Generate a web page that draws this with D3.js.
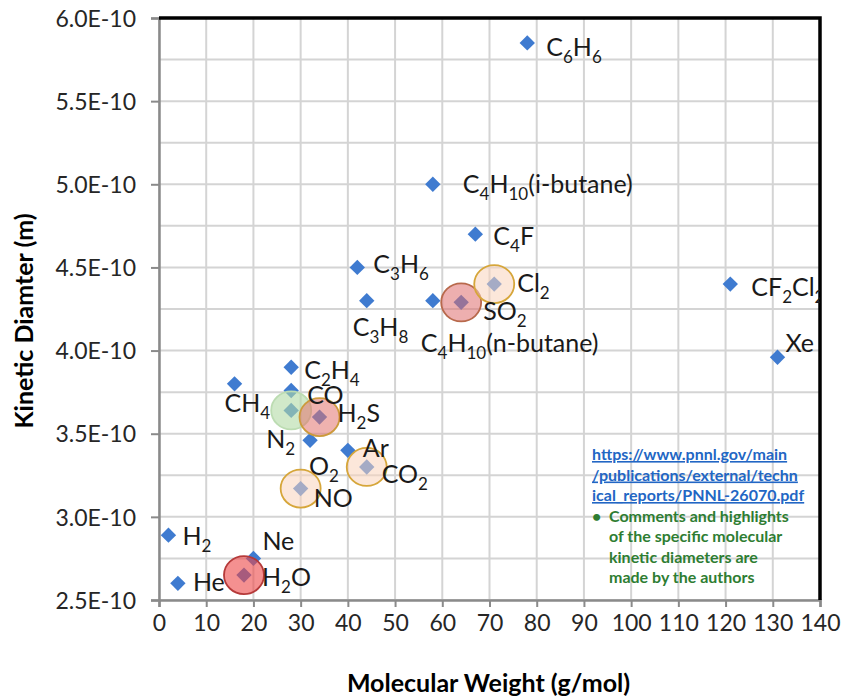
<!DOCTYPE html>
<html>
<head>
<meta charset="utf-8">
<script src="https://cdn.jsdelivr.net/npm/d3@7"></script>
<style>
  body { margin: 0; background: #fff; }
  text { font-family: Lato, "Open Sans", sans-serif; }
</style>
</head>
<body>
<div id="chart"></div>
<script>
// molecules (subscripts written as _n)
const gases = ["C_6H_6", "C_4H_{10}(i-butane)", "C_4F", "C_3H_6", "C_3H_8", "C_4H_{10}(n-butane)",
    "SO_2", "Cl_2", "CF_2Cl_2", "Xe", "CH_4", "C_2H_4", "CO", "N_2", "H_2S", "O_2", "Ar",
    "CO_2", "NO", "H_2", "Ne", "He", "H_2O"];
// molecular weight, g/mol
const molWeight = [78, 58, 67, 42, 44, 58, 64, 71, 121, 131, 16, 28, 28, 28, 34, 32, 40, 44, 30, 2, 20, 4, 18];
// kinetic diameter, m
const kineticDiameter = [5.85e-10, 5.0e-10, 4.7e-10, 4.5e-10, 4.3e-10, 4.3e-10, 4.29e-10, 4.4e-10,
    4.4e-10, 3.96e-10, 3.8e-10, 3.9e-10, 3.76e-10, 3.64e-10, 3.6e-10, 3.46e-10, 3.4e-10,
    3.3e-10, 3.17e-10, 2.89e-10, 2.75e-10, 2.6e-10, 2.65e-10];
const xTicks = [0, 10, 20, 30, 40, 50, 60, 70, 80, 90, 100, 110, 120, 130, 140];
const yTicks = [2.5e-10, 3.0e-10, 3.5e-10, 4.0e-10, 4.5e-10, 5.0e-10, 5.5e-10, 6.0e-10];
// molecules the authors circled
const highlighted = ["H_2O", "SO_2", "H_2S", "Cl_2", "CO_2", "NO", "N_2"];
const noteLink = ["https://www.pnnl.gov/main", "/publications/external/techn", "ical_reports/PNNL-26070.pdf"];
const noteText = ["Comments and highlights", "of the specific molecular", "kinetic diameters are", "made by the authors"];

// label placement next to each marker (px)
const labelOffset = {
    "C_6H_6": [19, 4], "C_4H_{10}(i-butane)": [30, 0], "C_4F": [18, 2], "C_3H_6": [16, -3],
    "C_3H_8": [-14, 26], "C_4H_{10}(n-butane)": [-12, 42], "SO_2": [22, 9], "Cl_2": [23, -1],
    "CF_2Cl_2": [21, 3], "Xe": [8, -14], "CH_4": [-10, 19], "C_2H_4": [13, 3], "CO": [16, 5],
    "N_2": [-25, 29], "H_2S": [18, -4], "O_2": [-1, 26], "Ar": [15, -2], "CO_2": [15, 7],
    "NO": [13, 9], "H_2": [14, 1], "Ne": [9, -17], "He": [15, -1], "H_2O": [18, 2]
};
const circleStyle = {
    "H_2O": ["rgba(236,70,70,0.6)", "#b53a3a"],
    "SO_2": ["rgba(222,110,110,0.55)", "#b8694c"],
    "H_2S": ["rgba(226,115,110,0.55)", "#cc9a3c"],
    "Cl_2": ["rgba(250,212,188,0.55)", "#d6a63a"],
    "CO_2": ["rgba(250,212,188,0.55)", "#d6a63a"],
    "NO": ["rgba(250,212,188,0.55)", "#d6a63a"],
    "N_2": ["rgba(178,218,165,0.6)", "#bcdcb2"]
};

let width = 841, height = 697;
let margin = { top: 18, right: 21, bottom: 97, left: 159 };
let w = width - margin.left - margin.right;
let h = height - margin.top - margin.bottom;

let data = gases.map((g, i) => ({ name: g, mw: molWeight[i], kd: kineticDiameter[i] }));

let x = d3.scaleLinear().domain([0, 140]).range([0, w]);
let y = d3.scaleLinear().domain([2.5e-10, 6.0e-10]).range([h, 0]);

let svg = d3.select("#chart").append("svg")
    .attr("width", width)
    .attr("height", height);
let g = svg.append("g")
    .attr("transform", "translate(" + margin.left + "," + margin.top + ")");

svg.append("defs").append("clipPath").attr("id", "plot")
    .append("rect").attr("width", w).attr("height", h);

// grid
g.append("g")
    .selectAll("line.v").data(xTicks).enter().append("line")
    .attr("x1", d => x(d)).attr("x2", d => x(d))
    .attr("y1", 0).attr("y2", h)
    .attr("stroke", "#d4d4d4").attr("stroke-width", 2);
g.append("g")
    .selectAll("line.h").data(d3.range(2.5e-10, 6.01e-10, 0.25e-10)).enter().append("line")
    .attr("x1", 0).attr("x2", w)
    .attr("y1", d => y(d)).attr("y2", d => y(d))
    .attr("stroke", "#d4d4d4").attr("stroke-width", 2);

// axes
let xAxis = g.append("g")
    .attr("transform", "translate(0," + h + ")")
    .call(d3.axisBottom(x).tickValues(xTicks).tickSize(7).tickPadding(8).tickFormat(d3.format("d")));
let yAxis = g.append("g")
    .call(d3.axisLeft(y).tickValues(yTicks).tickSize(8).tickPadding(15)
        .tickFormat(d => (d * 1e10).toFixed(1) + "E-10"));
[xAxis, yAxis].forEach(a => {
    a.select(".domain").attr("stroke", "#8a8a8a").attr("stroke-width", 2.5);
    a.selectAll(".tick line").attr("stroke", "#8a8a8a").attr("stroke-width", 2);
    a.selectAll(".tick text").attr("fill", "#262626").style("font-size", "23px")
        .style("font-family", "Lato, sans-serif");
});
xAxis.selectAll(".tick text").attr("dy", "0.7em");
yAxis.selectAll(".tick text").attr("dy", "0.36em");

// top/right frame
g.append("path")
    .attr("d", "M0,0H" + w + "V" + h)
    .attr("fill", "none").attr("stroke", "#000").attr("stroke-width", 3.5);

let plot = g.append("g").attr("clip-path", "url(#plot)");

// markers
plot.selectAll(".pt").data(data).enter().append("path")
    .attr("class", "pt")
    .attr("transform", d => "translate(" + x(d.mw) + "," + y(d.kd) + ") rotate(45)")
    .attr("d", d3.symbol(d3.symbolSquare, 118))
    .attr("fill", "#3f7bd0");

// highlight circles
plot.selectAll(".hl").data(data.filter(d => highlighted.includes(d.name))).enter().append("ellipse")
    .attr("cx", d => x(d.mw)).attr("cy", d => y(d.kd))
    .attr("rx", 20).attr("ry", 19)
    .attr("fill", d => circleStyle[d.name][0])
    .attr("stroke", d => circleStyle[d.name][1])
    .attr("stroke-width", 1.8);

// labels with subscripts
function addFormula(sel, s) {
    let parts = s.split(/_(\{\d+\}|\d)/);
    parts.forEach((p, i) => {
        if (!p) return;
        let sub = i % 2 === 1;
        sel.append("tspan")
            .text(sub ? p.replace(/[{}]/g, "") : p)
            .attr("dy", sub ? 7 : (i > 0 && parts[i - 1] ? -7 : 0))
            .style("font-size", sub ? "17px" : "25px");
    });
}
plot.selectAll(".lbl").data(data).enter().append("text")
    .attr("x", d => x(d.mw) + labelOffset[d.name][0])
    .attr("y", d => y(d.kd) + labelOffset[d.name][1] + 9)
    .attr("fill", "#1a1a1a")
    .each(function (d) { addFormula(d3.select(this), d.name); });

// note
let note = g.append("g").attr("transform", "translate(" + (592 - margin.left) + "," + (460 - margin.top) + ")");
note.selectAll(".lnk").data(noteLink).enter().append("text")
    .attr("y", (d, i) => i * 20.5)
    .attr("fill", "#2266c4").attr("text-decoration", "underline")
    .style("font-size", "16px").style("font-weight", "bold")
    .text(d => d);
note.append("text").attr("x", 0).attr("y", 62)
    .attr("fill", "#2e7d32").style("font-size", "16px").style("font-weight", "bold").text("•");
note.selectAll(".cmt").data(noteText).enter().append("text")
    .attr("x", 17).attr("y", (d, i) => 62 + i * 20.3)
    .attr("fill", "#2e7d32")
    .style("font-size", "16px").style("font-weight", "bold")
    .text(d => d);

// axis titles
svg.append("text")
    .attr("x", margin.left + w / 2 - 1).attr("y", 692)
    .attr("text-anchor", "middle")
    .style("font-size", "25px").style("font-weight", "bold")
    .text("Molecular Weight (g/mol)");
svg.append("text")
    .attr("transform", "translate(33," + 321 + ") rotate(-90)")
    .attr("text-anchor", "middle")
    .style("font-size", "25px").style("font-weight", "bold")
    .text("Kinetic Diamter (m)");
</script>
</body>
</html>
